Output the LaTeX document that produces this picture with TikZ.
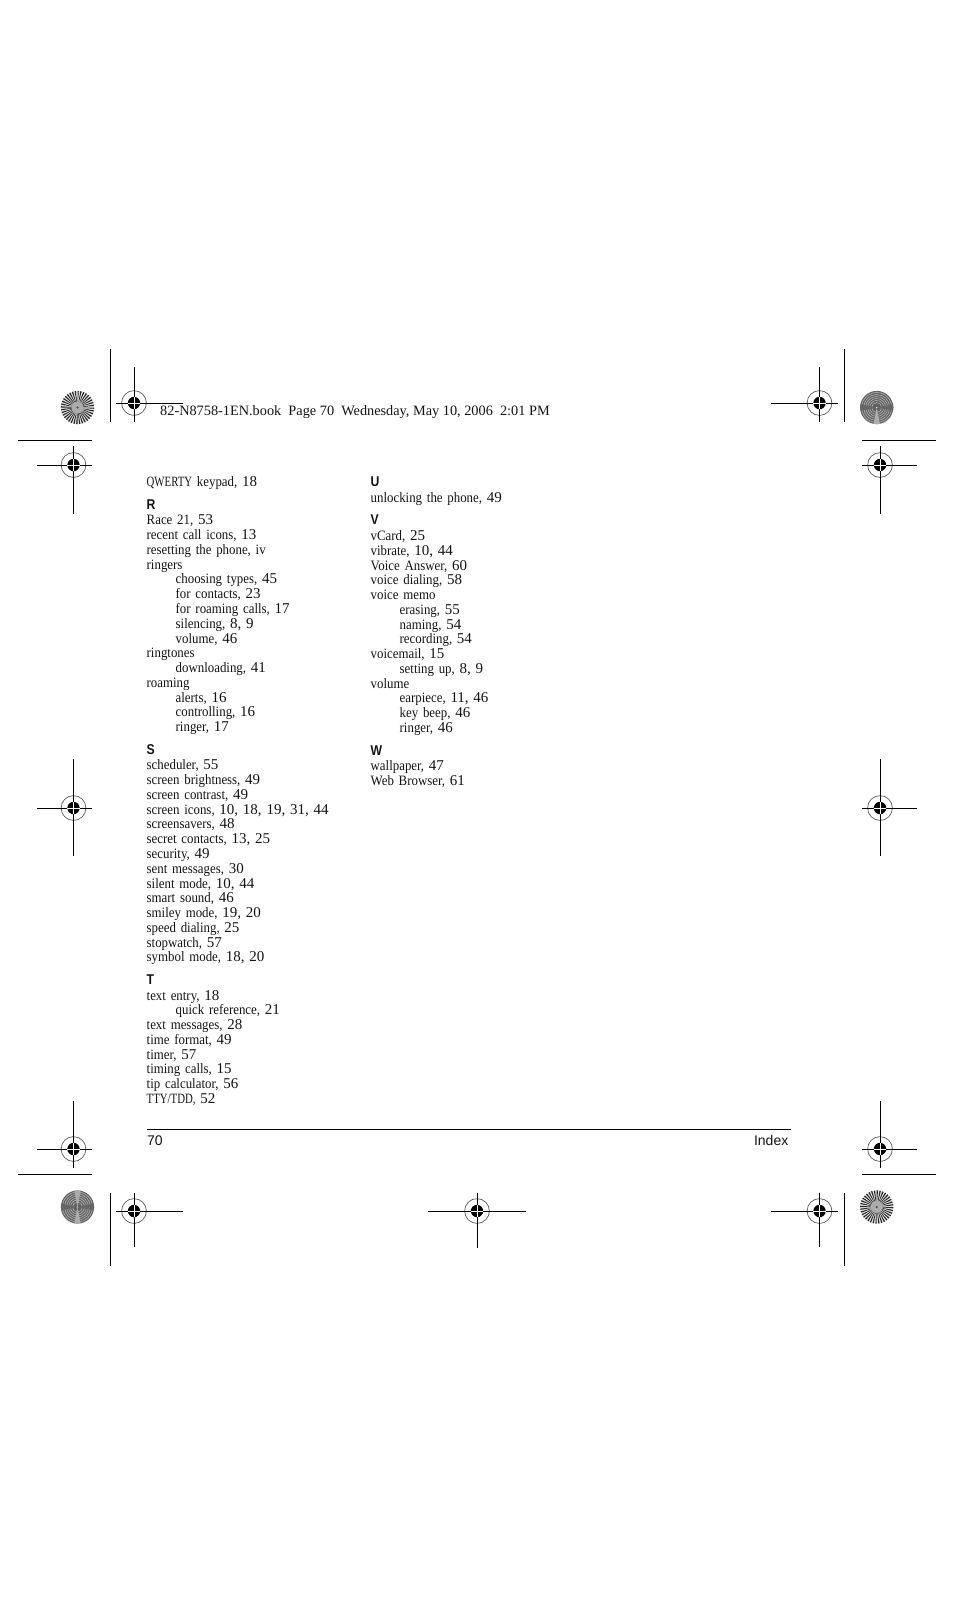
\documentclass[tikz,border=0pt]{standalone}
\usepackage{fontspec}
\setmainfont{Liberation Serif}
\setsansfont{Liberation Sans}
\newfontfamily\entryfont[FakeStretch=0.9, WordSpace=0.8]{Liberation Serif}
\newfontfamily\capsfont[FakeStretch=0.76]{Liberation Serif}
\newfontfamily\headfont[FakeStretch=0.86]{Liberation Sans Bold}
\usetikzlibrary{positioning}
\definecolor{inkColor}{RGB}{20, 20, 20}
\definecolor{ringColor}{RGB}{90, 90, 90}
\newcommand{\pn}[1]{{\rmfamily\fontsize{15}{15}\selectfont #1}}
\newcommand{\capsword}[1]{{\capsfont\fontsize{14.2}{14}\selectfont #1}}
\tikzset{
    idx_line/.style={
        inner sep=0pt,
        text width=300pt,
        text height=10pt,
        text depth=4pt,
        align=left,
        text=inkColor,
        font=\entryfont\fontsize{14.3}{14}\selectfont,
        node distance=14.77pt
    },
    idx_sub/.style={
        idx_line,
        execute at begin node={\hspace*{29pt}}
    },
    idx_head/.style={
        idx_line,
        font=\headfont\fontsize{14.2}{14}\selectfont,
        node distance=22.6pt
    },
    idx_first/.style={
        idx_line,
        node distance=15.6pt
    },
    foot_text/.style={
        inner sep=0pt,
        anchor=base,
        text=inkColor,
        font=\sffamily\fontsize{14}{14}\selectfont
    },
    crop_line/.style={
        draw=black,
        line width=1pt
    }
}
% mark: centre x, y, then arm lengths left, right, up, down
\newcommand{\regmark}[6]{
    \begin{scope}[shift={(#1,#2)}]
        \draw[draw=ringColor, line width=0.7pt] (0,0) circle (12.4);
        \fill[black] (0,0) circle (6.2);
        \draw[crop_line] (-#3,0) -- (-6.2,0) (6.2,0) -- (#4,0);
        \draw[crop_line] (0,-#5) -- (0,-6.2) (0,6.2) -- (0,#6);
        \draw[white, line width=0.8pt] (-6.2,0) -- (6.2,0) (0,-6.2) -- (0,6.2);
    \end{scope}
}
\newcommand{\burstlight}[2]{
    \begin{scope}[shift={(#1,#2)}]
        \fill[gray!20] (0,0) circle (16.6);
        \foreach \ang in {0,10,...,350}
            \fill[black!85] (0,0) -- (\ang:16.6) arc (\ang:\ang+4.5:16.6) -- cycle;
        \fill[gray!65] (0,0) circle (6);
        \fill[black!70] (0,0) circle (1.2);
    \end{scope}
}
\newcommand{\burstdark}[3]{
    \begin{scope}[shift={(#1,#2)}]
        \fill[black!62] (0,0) circle (16.6);
        \foreach \rad in {5,7,...,15}
            \draw[gray!60, line width=0.6pt] (0,0) circle (\rad);
        \foreach \ang in {0,180}
            \fill[black!60] (0,0) -- (\ang-11:16.6) arc (\ang-11:\ang+11:16.6) -- cycle;
        \foreach \ang in {#3}
            \fill[gray!65] (0,0) -- (\ang-11:16.6) arc (\ang-11:\ang+11:16.6) -- cycle;
        \fill[white] (0,0) circle (0.6);
    \end{scope}
}
\begin{document}
\begin{tikzpicture}[x=1pt, y=-1pt]
    \useasboundingbox (0,0) rectangle (954,1615);
    \fill[white] (0,0) rectangle (954,1615);

    % registration marks
    \regmark{134}{403}{18}{49}{36}{19}
    \regmark{819.5}{403}{48.5}{18.5}{36}{19}
    \regmark{73.5}{465}{36.5}{18.5}{19}{49}
    \regmark{880}{465}{18}{37}{19}{49}
    \regmark{73.5}{808}{36.5}{18.5}{49}{48}
    \regmark{880}{808}{18}{37}{49}{48}
    \regmark{73.5}{1149}{36.5}{18.5}{48}{19}
    \regmark{880}{1149}{18}{37}{48}{19}
    \regmark{134}{1211}{18}{49}{18}{36}
    \regmark{477}{1211}{49}{49}{18}{37}
    \regmark{819.5}{1211}{48.5}{18.5}{18}{36}

    % trim lines
    \draw[crop_line] (110.5,349) -- (110.5,422);
    \draw[crop_line] (844.5,349) -- (844.5,422);
    \draw[crop_line] (18,440) -- (92,440);
    \draw[crop_line] (862,440) -- (936,440);
    \draw[crop_line] (18,1174) -- (92,1174);
    \draw[crop_line] (862,1174) -- (936,1174);
    \draw[crop_line] (110.5,1193) -- (110.5,1266);
    \draw[crop_line] (844.5,1193) -- (844.5,1266);

    \burstlight{77.5}{407.5}
    \burstdark{876.7}{407.5}{90}
    \burstdark{77.5}{1207}{90,270}
    \burstlight{876.7}{1207}

    % slug line
    \node[inner sep=0pt, anchor=base west, text=inkColor, font=\rmfamily\fontsize{14.3}{15}\selectfont] (slug) at (160,415) {82-N8758-1EN.book\ \ Page 70\ \ Wednesday, May 10, 2006\ \ 2:01 PM};

    % first column
    \node[idx_line] (qwerty) at (296.7,483.7) {\capsword{QWERTY} keypad, \pn{18}};
    \node[idx_head, below of=qwerty] (rhead) {R};
    \node[idx_first, below of=rhead] (race) {Race 21, \pn{53}};
    \node[idx_line, below of=race] (recent) {recent call icons, \pn{13}};
    \node[idx_line, below of=recent] (reset) {resetting the phone, iv};
    \node[idx_line, below of=reset] (ringers) {ringers};
    \node[idx_sub, below of=ringers] (choosing) {choosing types, \pn{45}};
    \node[idx_sub, below of=choosing] (forcont) {for contacts, \pn{23}};
    \node[idx_sub, below of=forcont] (forroam) {for roaming calls, \pn{17}};
    \node[idx_sub, below of=forroam] (silencing) {silencing, \pn{8, 9}};
    \node[idx_sub, below of=silencing] (ringvol) {volume, \pn{46}};
    \node[idx_line, below of=ringvol] (ringtones) {ringtones};
    \node[idx_sub, below of=ringtones] (download) {downloading, \pn{41}};
    \node[idx_line, below of=download] (roaming) {roaming};
    \node[idx_sub, below of=roaming] (alerts) {alerts, \pn{16}};
    \node[idx_sub, below of=alerts] (control) {controlling, \pn{16}};
    \node[idx_sub, below of=control] (roamring) {ringer, \pn{17}};
    \node[idx_head, below of=roamring] (shead) {S};
    \node[idx_first, below of=shead] (sched) {scheduler, \pn{55}};
    \node[idx_line, below of=sched] (bright) {screen brightness, \pn{49}};
    \node[idx_line, below of=bright] (contrast) {screen contrast, \pn{49}};
    \node[idx_line, below of=contrast] (icons) {screen icons, \pn{10, 18, 19, 31, 44}};
    \node[idx_line, below of=icons] (savers) {screensavers, \pn{48}};
    \node[idx_line, below of=savers] (secret) {secret contacts, \pn{13, 25}};
    \node[idx_line, below of=secret] (security) {security, \pn{49}};
    \node[idx_line, below of=security] (sent) {sent messages, \pn{30}};
    \node[idx_line, below of=sent] (silent) {silent mode, \pn{10, 44}};
    \node[idx_line, below of=silent] (smart) {smart sound, \pn{46}};
    \node[idx_line, below of=smart] (smiley) {smiley mode, \pn{19, 20}};
    \node[idx_line, below of=smiley] (speed) {speed dialing, \pn{25}};
    \node[idx_line, below of=speed] (stopw) {stopwatch, \pn{57}};
    \node[idx_line, below of=stopw] (symbol) {symbol mode, \pn{18, 20}};
    \node[idx_head, below of=symbol] (thead) {T};
    \node[idx_first, below of=thead] (entry) {text entry, \pn{18}};
    \node[idx_sub, below of=entry] (quick) {quick reference, \pn{21}};
    \node[idx_line, below of=quick] (textmsg) {text messages, \pn{28}};
    \node[idx_line, below of=textmsg] (format) {time format, \pn{49}};
    \node[idx_line, below of=format] (timer) {timer, \pn{57}};
    \node[idx_line, below of=timer] (timing) {timing calls, \pn{15}};
    \node[idx_line, below of=timing] (tip) {tip calculator, \pn{56}};
    \node[idx_line, below of=tip] (tty) {\capsword{TTY/TDD,} \pn{52}};

    % second column
    \node[idx_head] (uhead) at (520.7,483.7) {U};
    \node[idx_first, below of=uhead] (unlock) {unlocking the phone, \pn{49}};
    \node[idx_head, below of=unlock] (vhead) {V};
    \node[idx_first, below of=vhead] (vcard) {vCard, \pn{25}};
    \node[idx_line, below of=vcard] (vibrate) {vibrate, \pn{10, 44}};
    \node[idx_line, below of=vibrate] (answer) {Voice Answer, \pn{60}};
    \node[idx_line, below of=answer] (vdial) {voice dialing, \pn{58}};
    \node[idx_line, below of=vdial] (vmemo) {voice memo};
    \node[idx_sub, below of=vmemo] (erasing) {erasing, \pn{55}};
    \node[idx_sub, below of=erasing] (naming) {naming, \pn{54}};
    \node[idx_sub, below of=naming] (record) {recording, \pn{54}};
    \node[idx_line, below of=record] (vmail) {voicemail, \pn{15}};
    \node[idx_sub, below of=vmail] (setup) {setting up, \pn{8, 9}};
    \node[idx_line, below of=setup] (volume) {volume};
    \node[idx_sub, below of=volume] (earpiece) {earpiece, \pn{11, 46}};
    \node[idx_sub, below of=earpiece] (keybeep) {key beep, \pn{46}};
    \node[idx_sub, below of=keybeep] (volring) {ringer, \pn{46}};
    \node[idx_head, below of=volring] (whead) {W};
    \node[idx_first, below of=whead] (wallp) {wallpaper, \pn{47}};
    \node[idx_line, below of=wallp] (browser) {Web Browser, \pn{61}};

    % footer
    \coordinate (ruleL) at (146.5,1129.5);
    \coordinate (ruleR) at (791,1129.5);
    \draw[crop_line] (ruleL) -- (ruleR);
    \node[foot_text, anchor=base west] (pagenum) at (147,1145) {70};
    \node[foot_text, anchor=base east] (section) at (788.5,1145) {Index};
\end{tikzpicture}
\end{document}
